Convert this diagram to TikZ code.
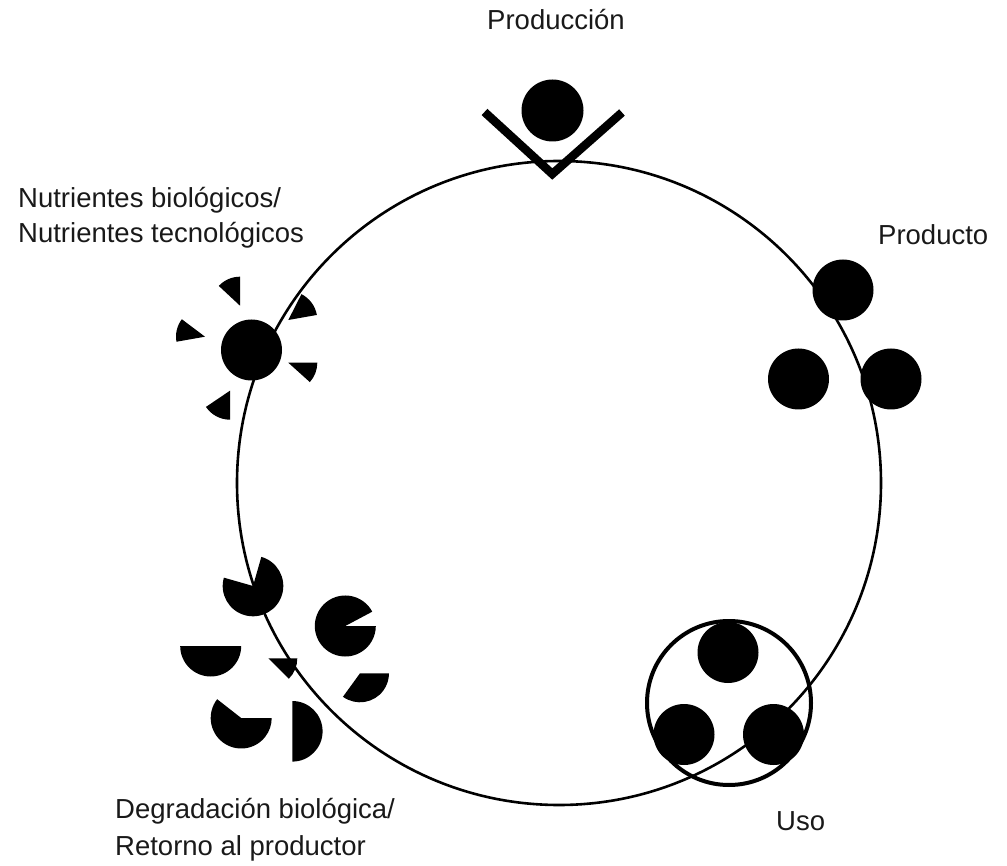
\documentclass[tikz,border=0pt]{standalone}
\usepackage{fontspec}
\setmainfont{Liberation Sans}
\begin{document}
\begin{tikzpicture}[x=1pt,y=1pt,
  lbl/.style={inner sep=0pt, font=\fontsize{27.5}{34}\selectfont, text=black!90},
  ring/.style={draw=black, line width=2.6pt},
  usering/.style={draw=black, line width=4pt},
  chev/.style={draw=black, line width=8.5pt, miter limit=10},
]
\useasboundingbox (0,0) rectangle (1007,-866);
% main cycle
\coordinate (C) at (559,-483);
\draw[ring] (C) circle[radius=322];

% Produccion
\fill (552.5,-110.5) circle[radius=31];
\coordinate (v1) at (484.5,-112);
\coordinate (v2) at (552.3,-174);
\coordinate (v3) at (622,-112.5);
\draw[chev] (v1) -- (v2) -- (v3);

% Producto
\fill (843,-290) circle[radius=30.5];
\fill (798.5,-379) circle[radius=30.5];
\fill (891,-379) circle[radius=30.5];

% Uso
\draw[usering] (729,-703) circle[radius=82];
\fill (728,-652.5) circle[radius=30.5];
\fill (684,-734.5) circle[radius=30.5];
\fill (773.5,-734.5) circle[radius=30.5];

% Nutrientes
\fill (251.5,-350) circle[radius=30.5];
\fill (240,-305.7) -- +(90:29) arc[start angle=90, end angle=137, radius=29] -- cycle;
\fill (288.3,-320) -- +(10:29) arc[start angle=10, end angle=63, radius=29] -- cycle;
\fill (205,-336.7) -- +(143:29) arc[start angle=143, end angle=190, radius=29] -- cycle;
\fill (288.3,-362.7) -- +(-42:29) arc[start angle=-42, end angle=0, radius=29] -- cycle;
\fill (230,-390.7) -- +(-146:29) arc[start angle=-146, end angle=-90, radius=29] -- cycle;

% Degradacion
\fill (253,-586) -- +(74:30.3) arc[start angle=74, end angle=-196, radius=30.3] -- cycle;
\fill (345.3,-626) -- +(28:30.5) arc[start angle=28, end angle=360, radius=30.5] -- cycle;
\fill (210.7,-646) -- +(180:30.5) arc[start angle=180, end angle=360, radius=30.5] -- cycle;
\fill (268.3,-658.3) -- +(-45:29) arc[start angle=-45, end angle=0, radius=29] -- cycle;
\fill (360,-673.3) -- +(-126:29) arc[start angle=-126, end angle=0, radius=29] -- cycle;
\fill (241.2,-718) -- +(142:30.5) arc[start angle=142, end angle=360, radius=30.5] -- cycle;
\fill (292.3,-731.3) -- +(-90:30.3) arc[start angle=-90, end angle=90, radius=30.3] -- cycle;

% Labels
\node[lbl, anchor=base] (lprod) at (556,-30) {Producción};
\node[lbl, anchor=base west] (lnut1) at (18,-208) {Nutrientes biológicos/};
\node[lbl, anchor=base west] (lnut2) at (18,-243) {Nutrientes tecnológicos};
\node[lbl, anchor=base west] (lproducto) at (878,-245) {Producto};
\node[lbl, anchor=base west] (ldeg1) at (115,-818) {Degradación biológica/};
\node[lbl, anchor=base west] (ldeg2) at (115,-855) {Retorno al productor};
\node[lbl, anchor=base west] (luso) at (776,-830) {Uso};
\end{tikzpicture}
\end{document}
